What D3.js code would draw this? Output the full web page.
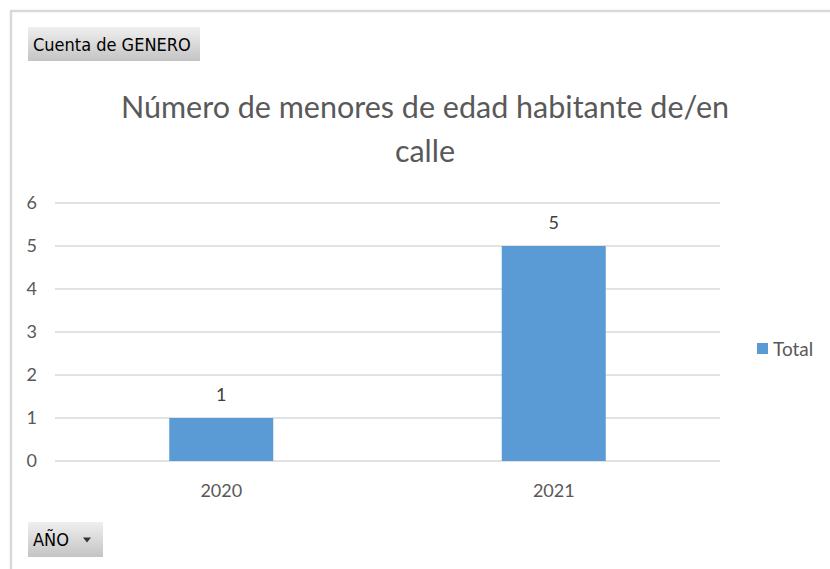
<!DOCTYPE html>
<html>
<head>
<meta charset="utf-8">
<script src="https://cdn.jsdelivr.net/npm/d3@7"></script>
<style>
  body { margin: 0; background: #fff; }
  svg { display: block; }
</style>
</head>
<body>
<svg id="chart" width="830" height="569"></svg>
<script>
// data
const years = ["2020", "2021"];
const totals = [1, 5];
const yTicks = [0, 1, 2, 3, 4, 5, 6];
const titleLines = ["Número de menores de edad habitante de/en", "calle"];
const legendLabel = "Total";

const svg = d3.select("#chart");
const font = "Lato, 'Open Sans', sans-serif";

// frame of the pivot chart area
svg.append("rect")
    .attr("x", 11).attr("y", 11)
    .attr("width", 840).attr("height", 580)
    .attr("fill", "#fff")
    .attr("stroke", "#d9d9d9")
    .attr("stroke-width", 2.5);

const defs = svg.append("defs");
const grad = defs.append("linearGradient")
    .attr("id", "btn").attr("x1", 0).attr("x2", 0).attr("y1", 0).attr("y2", 1);
grad.append("stop").attr("offset", "0%").attr("stop-color", "#efefef");
grad.append("stop").attr("offset", "100%").attr("stop-color", "#c4c4c4");

// field buttons
function button(x, y, w, h, label, arrow) {
    const g = svg.append("g").attr("transform", `translate(${x},${y})`);
    g.append("rect").attr("width", w).attr("height", h).attr("fill", "url(#btn)");
    g.append("text")
        .attr("x", 5).attr("y", h / 2 + 6.5)
        .attr("font-family", "'Liberation Sans Narrow', 'DejaVu Sans Condensed', sans-serif")
        .attr("font-size", 18)
        .attr("fill", "#000")
        .text(label);
    if (arrow) {
        g.append("path")
            .attr("d", `M${w - 20},${h / 2 - 2} l8,0 l-4,5 z`)
            .attr("fill", "#333");
    }
}
button(28, 27, 172, 34, "Cuenta de GENERO", false);
button(28, 522, 75, 35, "AÑO", true);

// title
svg.append("g").selectAll("text")
    .data(titleLines)
    .join("text")
    .attr("x", 425)
    .attr("y", (d, i) => 118 + i * 44)
    .attr("text-anchor", "middle")
    .attr("font-family", font)
    .attr("font-size", 30.5)
    .attr("fill", "#595959")
    .text(d => d);

// scales
const x = d3.scaleBand().domain(years).range([55, 720]).paddingInner(0).paddingOuter(0);
const y = d3.scaleLinear().domain([0, 6]).range([461, 203]);

// gridlines
svg.append("g").selectAll("line")
    .data(yTicks)
    .join("line")
    .attr("x1", 55).attr("x2", 720)
    .attr("y1", d => y(d)).attr("y2", d => y(d))
    .attr("stroke", "#d9d9d9")
    .attr("stroke-width", 1.3);

// y axis labels
const yAxis = svg.append("g")
    .attr("transform", "translate(37,0)")
    .call(d3.axisLeft(y).tickValues(yTicks).tickFormat(d3.format("d")).tickSize(0).tickPadding(0));
yAxis.select(".domain").remove();
yAxis.selectAll("text")
    .attr("font-family", font).attr("font-size", 18).attr("fill", "#595959");

// x axis labels
const xAxis = svg.append("g")
    .attr("transform", "translate(0,476)")
    .call(d3.axisBottom(x).tickSize(0).tickPadding(8));
xAxis.select(".domain").remove();
xAxis.selectAll("text")
    .attr("font-family", font).attr("font-size", 18).attr("fill", "#595959");

// bars
const barW = 104;
svg.append("g").selectAll("rect")
    .data(totals)
    .join("rect")
    .attr("x", (d, i) => x(years[i]) + x.bandwidth() / 2 - barW / 2)
    .attr("y", d => y(d))
    .attr("width", barW)
    .attr("height", d => y(0) - y(d))
    .attr("fill", "#5b9bd5");

// data labels
svg.append("g").selectAll("text")
    .data(totals)
    .join("text")
    .attr("x", (d, i) => x(years[i]) + x.bandwidth() / 2)
    .attr("y", d => y(d) - 17)
    .attr("text-anchor", "middle")
    .attr("font-family", font)
    .attr("font-size", 18)
    .attr("fill", "#404040")
    .text(d => d);

// legend
const lg = svg.append("g").attr("transform", "translate(757,343)");
lg.append("rect").attr("width", 11).attr("height", 11).attr("fill", "#5b9bd5");
lg.append("text")
    .attr("x", 16).attr("y", 12.5)
    .attr("font-family", font).attr("font-size", 19).attr("fill", "#595959")
    .text(legendLabel);
</script>
</body>
</html>
